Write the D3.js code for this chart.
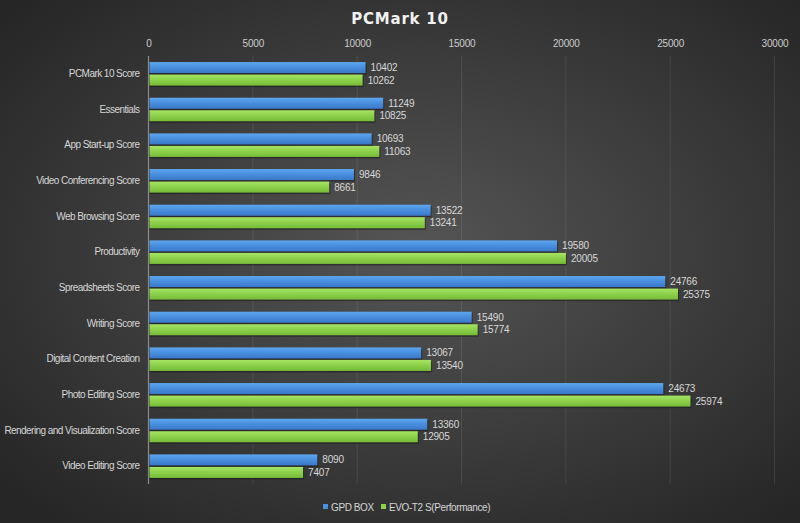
<!DOCTYPE html>
<html lang="en">
<head>
    <meta charset="UTF-8"/>
    <title>PCMark 10</title>
    <script src="https://d3js.org/d3.v7.min.js"></script>
    <style>
        body { margin: 0; background: #2b2b2b; }
        svg text { font-family: "Liberation Sans", sans-serif; }
    </style>
</head>
<body>
    <div id="chart"></div>

    <script>
        var categories = ["PCMark 10 Score", "Essentials", "App Start-up Score", "Video Conferencing Score",
            "Web Browsing Score", "Productivity", "Spreadsheets Score", "Writing Score",
            "Digital Content Creation", "Photo Editing Score", "Rendering and Visualization Score",
            "Video Editing Score"];
        var gpdBox = [10402, 11249, 10693, 9846, 13522, 19580, 24766, 15490, 13067, 24673, 13360, 8090];
        var evoT2 = [10262, 10825, 11063, 8661, 13241, 20005, 25375, 15774, 13540, 25974, 12905, 7407];
        var seriesNames = ["GPD BOX", "EVO-T2 S(Performance)"];
        var xTicks = [0, 5000, 10000, 15000, 20000, 25000, 30000];

        var w = 800, h = 523;
        var mLeft = 148.5, mRight = 774.5, mTop = 56, mBottom = 484;

        var svg = d3.select("#chart").append("svg")
            .attr("width", w).attr("height", h);

        var defs = svg.append("defs");
        var bg = defs.append("radialGradient").attr("id", "bg")
            .attr("cx", "52%").attr("cy", "48%").attr("r", "68%");
        bg.append("stop").attr("offset", "0%").attr("stop-color", "#555555");
        bg.append("stop").attr("offset", "100%").attr("stop-color", "#262626");

        function barGrad(id, c1, c2, c3) {
            var g = defs.append("linearGradient").attr("id", id)
                .attr("x1", 0).attr("y1", 0).attr("x2", 0).attr("y2", 1);
            g.append("stop").attr("offset", "0%").attr("stop-color", c1);
            g.append("stop").attr("offset", "45%").attr("stop-color", c2);
            g.append("stop").attr("offset", "100%").attr("stop-color", c3);
        }
        barGrad("gBlue", "#5ea6ee", "#4a90e0", "#3a78c8");
        barGrad("gGreen", "#a6e464", "#8ed24c", "#76bb38");

        svg.append("rect").attr("width", w).attr("height", h).attr("fill", "url(#bg)");

        var x = d3.scaleLinear().domain([0, 30000]).range([mLeft, mRight]);
        var y = d3.scaleBand().domain(categories).range([mTop, mBottom]).paddingInner(0.34).paddingOuter(0.17);
        var sub = d3.scaleBand().domain(seriesNames).range([0, y.bandwidth()]).paddingInner(0.12);

        // title
        svg.append("text").attr("x", 400).attr("y", 24)
            .attr("text-anchor", "middle").attr("fill", "#f2f2f2")
            .style("font-family", "'DejaVu Sans', sans-serif")
            .style("font-weight", "bold").style("font-size", "15px").style("letter-spacing", "0.8px")
            .text("PCMark 10");

        // gridlines
        svg.append("g").selectAll("line").data(xTicks.slice(1)).enter().append("line")
            .attr("x1", function(d) { return x(d); }).attr("x2", function(d) { return x(d); })
            .attr("y1", mTop).attr("y2", mBottom)
            .attr("stroke", "#ffffff").attr("stroke-opacity", 0.09).attr("stroke-width", 1);

        // top axis
        var axis = svg.append("g").attr("transform", "translate(0," + 50 + ")")
            .call(d3.axisTop(x).tickValues(xTicks).tickSize(0).tickPadding(3).tickFormat(d3.format("d")));
        axis.select(".domain").remove();
        axis.selectAll("text").attr("fill", "#cccccc").style("font-size", "10px")
            .style("font-family", "'Liberation Sans', sans-serif").style("letter-spacing", "-0.2px");

        // category axis
        var yAxis = svg.append("g").attr("transform", "translate(" + mLeft + ",0)")
            .call(d3.axisLeft(y).tickSize(0).tickPadding(9));
        yAxis.select(".domain").attr("stroke", "#8a8a8a").attr("stroke-width", 1.2)
            .attr("d", "M0," + mTop + "V" + mBottom);
        yAxis.selectAll("text").attr("fill", "#d6d6d6").style("font-size", "10px")
            .style("font-family", "'Liberation Sans', sans-serif").style("letter-spacing", "-0.55px");

        var rows = categories.map(function(c, i) {
            return [{ s: seriesNames[0], v: gpdBox[i], c: c, fill: "url(#gBlue)" },
                    { s: seriesNames[1], v: evoT2[i], c: c, fill: "url(#gGreen)" }];
        });
        var flat = [].concat.apply([], rows);

        var bars = svg.append("g");
        // shadow
        bars.selectAll("rect.sh").data(flat).enter().append("rect")
            .attr("class", "sh")
            .attr("x", mLeft + 1)
            .attr("y", function(d) { return y(d.c) + sub(d.s) + 1.5; })
            .attr("width", function(d) { return x(d.v) - mLeft; })
            .attr("height", sub.bandwidth())
            .attr("fill", "#1a1a1a").attr("opacity", 0.55);
        bars.selectAll("rect.bar").data(flat).enter().append("rect")
            .attr("class", "bar")
            .attr("x", mLeft + 1)
            .attr("y", function(d) { return y(d.c) + sub(d.s); })
            .attr("width", function(d) { return x(d.v) - mLeft - 1; })
            .attr("height", sub.bandwidth())
            .attr("fill", function(d) { return d.fill; });

        bars.selectAll("text").data(flat).enter().append("text")
            .attr("x", function(d) { return x(d.v) + 5; })
            .attr("y", function(d) { return y(d.c) + sub(d.s) + sub.bandwidth() / 2 + 3.5; })
            .attr("fill", "#d8d8d8").style("font-size", "10px").style("letter-spacing", "-0.2px")
            .text(function(d) { return d.v; });

        // legend
        var legend = svg.append("g").attr("transform", "translate(323,503)");
        var lx = [0, 58];
        var lcol = ["#4a90e0", "#8ed24c"];
        seriesNames.forEach(function(n, i) {
            legend.append("rect").attr("x", lx[i]).attr("y", 1).attr("width", 5).attr("height", 5).attr("fill", lcol[i]);
            legend.append("text").attr("x", lx[i] + 8).attr("y", 7.5)
                .attr("fill", "#d6d6d6").style("font-size", "10px").style("letter-spacing", "-0.4px").text(n);
        });
    </script>
</body>
</html>
